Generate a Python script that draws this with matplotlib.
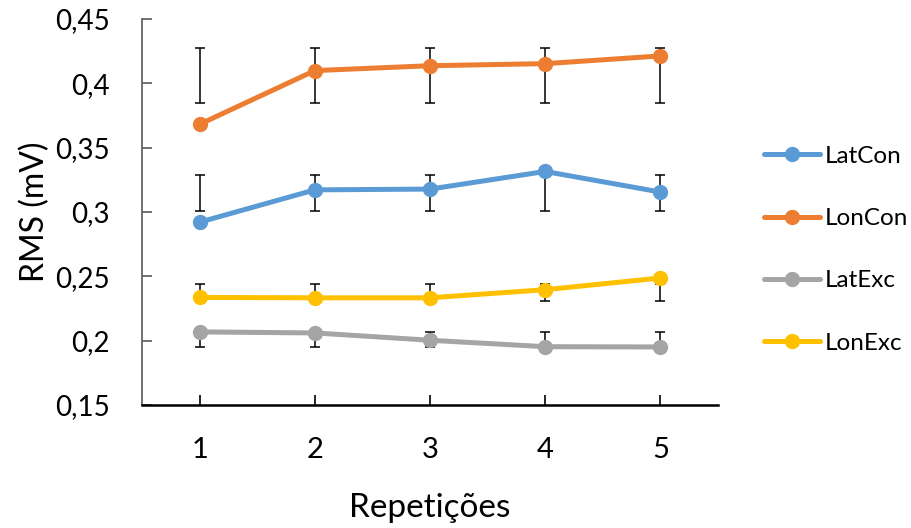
import numpy as np
import matplotlib
matplotlib.use("Agg")
import matplotlib.pyplot as plt
from matplotlib.lines import Line2D

plt.rcParams['font.family'] = ['Lato', 'DejaVu Sans']

# repetitions on the x axis
reps = [1, 2, 3, 4, 5]

# mean RMS per repetition (mV)
lat_con = [0.2921, 0.3172, 0.3178, 0.3315, 0.3155]
lon_con = [0.3682, 0.4099, 0.4137, 0.4153, 0.4213]
lat_exc = [0.2068, 0.2060, 0.2003, 0.1953, 0.1951]
lon_exc = [0.2336, 0.2333, 0.2333, 0.2396, 0.2487]

# error bar limits (low, high) for each series
lat_con_lo, lat_con_hi = 0.3009, 0.3291
lon_con_lo, lon_con_hi = 0.3845, 0.4273
lat_exc_lo, lat_exc_hi = 0.1953, 0.2064
lon_exc_lo, lon_exc_hi = 0.2308, 0.2443

series = [
    ("LatCon", lat_con, lat_con_lo, lat_con_hi, "#5B9BD5"),
    ("LonCon", lon_con, lon_con_lo, lon_con_hi, "#ED7D31"),
    ("LatExc", lat_exc, lat_exc_lo, lat_exc_hi, "#A5A5A5"),
    ("LonExc", lon_exc, lon_exc_lo, lon_exc_hi, "#FFC000"),
]

fig = plt.figure(figsize=(9.11, 5.28), dpi=100)
ax = fig.add_axes([0.1559, 0.2330, 0.6323, 0.7310])

handles = []
for name, vals, lo, hi, col in series:
    mid = (lo + hi) / 2
    half = (hi - lo) / 2
    ax.errorbar(reps, [mid] * len(reps), yerr=half, fmt='none',
                ecolor='black', elinewidth=1.1, capsize=3.8, capthick=1.1,
                zorder=2)
    ax.plot(reps, vals, color=col, lw=3.6, marker='o', ms=10,
            solid_capstyle='round', zorder=3)
    handles.append(Line2D([], [], color=col, lw=3.6, marker='o', ms=10,
                          solid_capstyle='round', label=name))

ax.set_xlim(0.5, 5.5)
ax.set_ylim(0.15, 0.45)
ax.set_xticks(reps)
yt = np.arange(0.15, 0.4501, 0.05)
ax.set_yticks(yt)
ax.set_yticklabels([f"{v:.2f}".rstrip('0').replace('.', ',') for v in yt])

for s in ['top', 'right']:
    ax.spines[s].set_visible(False)
ax.spines['left'].set_color('#595959')
ax.spines['left'].set_linewidth(1.2)
ax.spines['bottom'].set_color('black')
ax.spines['bottom'].set_linewidth(1.8)

ax.tick_params(axis='y', direction='in', length=7, width=1.2, color='#595959',
               labelsize=20, pad=23)
ax.tick_params(axis='x', direction='in', length=7, width=1.2, color='black',
               labelsize=21, pad=23)

ax.set_ylabel("RMS (mV)", fontsize=23)
ax.set_xlabel("Repetições", fontsize=24)
ax.yaxis.set_label_coords(-0.186, 0.5)
ax.xaxis.set_label_coords(0.5, -0.267)
ax.xaxis.label.set_va('center')
ax.yaxis.label.set_va('center')

fig.legend(handles=handles, loc='center left', bbox_to_anchor=(0.8386, 0.527),
           frameon=False, fontsize=17.5, labelspacing=1.7, handlelength=2.3,
           handletextpad=0.2, borderaxespad=0, borderpad=0)

fig.savefig("out.png", dpi=100)
